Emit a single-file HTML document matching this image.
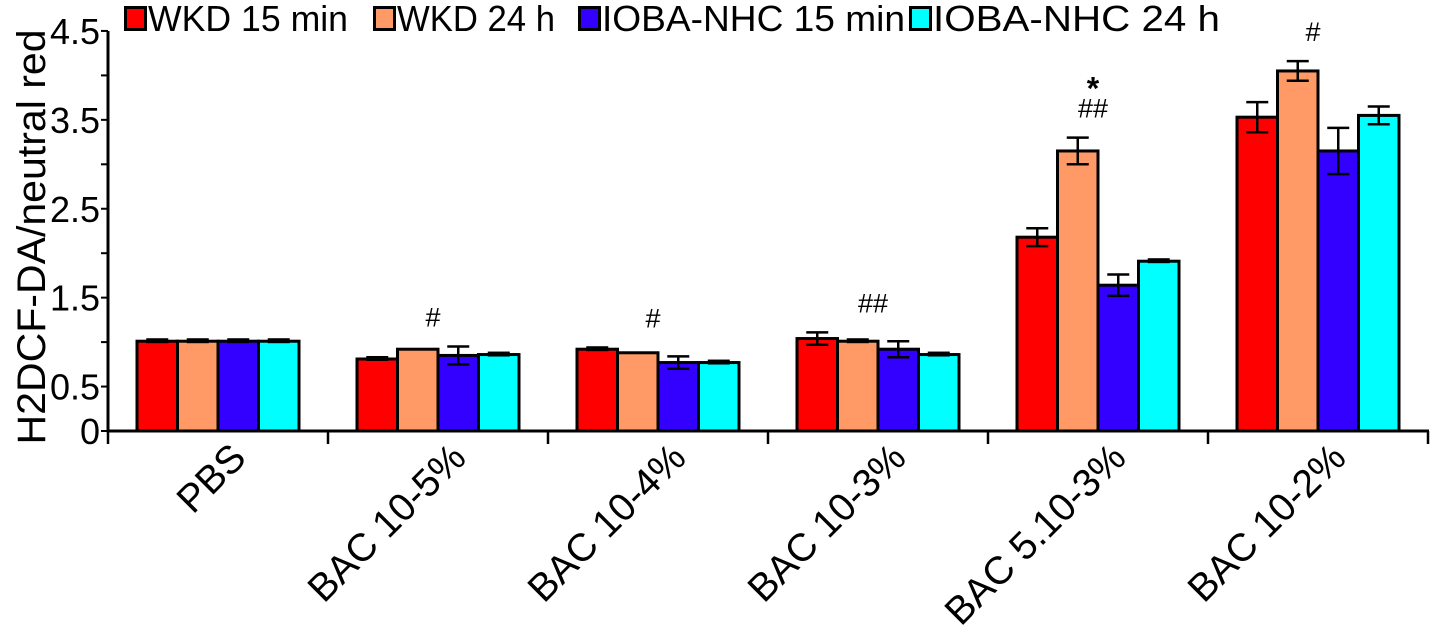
<!DOCTYPE html>
<html><head><meta charset="utf-8"><style>
html,body{margin:0;padding:0;background:#fff;}
svg{display:block;font-family:"Liberation Sans",Arial,sans-serif;}
</style></head><body>
<svg id="chart" width="1434" height="636" viewBox="0 0 1434 636" xmlns="http://www.w3.org/2000/svg">
<g id="legend"></g>
<text transform="translate(45,237) rotate(-90)" text-anchor="middle" font-size="40" textLength="415" lengthAdjust="spacingAndGlyphs" fill="#000">H2DCF-DA/neutral red</text>
<g id="axes"></g>
<g id="bars"></g>
<g id="notes"></g>
</svg>
<script>
const categories = ["PBS","BAC 10-5%","BAC 10-4%","BAC 10-3%","BAC 5.10-3%","BAC 10-2%"];
const seriesNames = ["WKD 15 min","WKD 24 h","IOBA-NHC 15 min","IOBA-NHC 24 h"];
const seriesColors = ["#ff0000","#ff9966","#3300ff","#00ffff"];
const wkd15 = [1.01,0.81,0.92,1.04,2.18,3.53];
const wkd24 = [1.01,0.92,0.88,1.01,3.15,4.05];
const ioba15 = [1.01,0.85,0.77,0.92,1.64,3.15];
const ioba24 = [1.01,0.86,0.77,0.86,1.91,3.55];
const wkd15Err = [0.02,0.02,0.02,0.07,0.1,0.17];
const wkd24Err = [0.02,0,0,0.02,0.15,0.11];
const ioba15Err = [0.02,0.1,0.07,0.09,0.12,0.26];
const ioba24Err = [0.02,0.02,0.02,0.02,0.02,0.1];
const majorTicks = [0,0.5,1.5,2.5,3.5,4.5];
const majorLabels = ["0","0.5","1.5","2.5","3.5","4.5"];
const minorTicks = [1,2,3,4];
const annotations = [["",""],["","#"],["","#"],["","##"],["*","##"],["","#"]];

const NS="http://www.w3.org/2000/svg";
const X0=108, GW=220, Y0=431, PPU=88.9, BW=40.5, OFF=29;
const yS=v=>Y0-v*PPU;
const groupX=i=>X0+i*GW;
function mk(tag,attrs,parent){const e=document.createElementNS(NS,tag);for(const k in attrs)e.setAttribute(k,attrs[k]);parent.appendChild(e);return e;}
const axes=document.getElementById('axes'),bars=document.getElementById('bars'),notes=document.getElementById('notes'),legend=document.getElementById('legend');

const legX=[124,373,578,909], legW=[225,183,328,312];
seriesNames.forEach((n,i)=>{
  const r=mk('rect',{x:legX[i]+1.5,y:7.5,width:20,height:22,fill:seriesColors[i],stroke:'#000','stroke-width':3},legend);
  
  
  const t=mk('text',{x:legX[i]+24,y:31,'font-size':36,textLength:legW[i]-25,lengthAdjust:'spacingAndGlyphs'},legend);
  t.textContent=n;
  
  
});

const ya=mk('line',{x1:X0,y1:yS(4.5),x2:X0,y2:Y0+1.5,stroke:'#000','stroke-width':3},axes);


const xa=mk('line',{x1:X0-1.5,y1:Y0,x2:groupX(categories.length)+1,y2:Y0,stroke:'#000','stroke-width':3},axes);


majorTicks.forEach((v,i)=>{
  mk('line',{x1:X0-7,y1:yS(v),x2:X0,y2:yS(v),stroke:'#000','stroke-width':2},axes);
  const t=mk('text',{x:100,y:yS(v)+13,'font-size':36,'text-anchor':'end'},axes);
  t.textContent=majorLabels[i];
  
  
});
minorTicks.forEach(v=>{mk('line',{x1:X0-7,y1:yS(v),x2:X0,y2:yS(v),stroke:'#000','stroke-width':2},axes);});
for(let i=0;i<=categories.length;i++){mk('line',{x1:groupX(i),y1:Y0,x2:groupX(i),y2:Y0+13,stroke:'#000','stroke-width':2.5},axes);}
categories.forEach((c,i)=>{
  const cx=groupX(i)+GW/2+30, cy=460;
  const t=mk('text',{x:0,y:0,'font-size':39,'text-anchor':'end',transform:`translate(${cx},${cy}) rotate(-45)`},axes);
  t.textContent=c;
  
  
});

const vals=[wkd15,wkd24,ioba15,ioba24], errs=[wkd15Err,wkd24Err,ioba15Err,ioba24Err];
categories.forEach((c,i)=>{
  vals.forEach((s,j)=>{
    const x=groupX(i)+OFF+j*BW, y=yS(s[i]);
    const r=mk('rect',{x:x,y:y,width:BW,height:Y0-y,fill:seriesColors[j],stroke:'#000','stroke-width':3},bars);
    
    
    const e=errs[j][i], cx=x+BW/2;
    if(e>0.03){
      const g=mk('g',{stroke:'#000','stroke-width':2.5},bars);
      
      
      mk('line',{x1:cx,y1:yS(s[i]+e),x2:cx,y2:yS(s[i]-e)},g);
      mk('line',{x1:cx-11,y1:yS(s[i]+e),x2:cx+11,y2:yS(s[i]+e)},g);
      mk('line',{x1:cx-11,y1:yS(s[i]-e),x2:cx+11,y2:yS(s[i]-e)},g);
    } else if(e>0){
      const g=mk('rect',{x:cx-11,y:y-3,width:22,height:5,fill:'#000'},bars);
      
      
    }
  });
  const a=annotations[i], mx=groupX(i)+OFF+2*BW-5;
  const topMin=Math.min(...vals.map((s,j)=>yS(s[i]+errs[j][i])));
  if(a[1]){
    const t=mk('text',{x:mx,y:topMin-20,'font-size':27,'text-anchor':'middle'},notes);
    t.textContent=a[1];
    
    
  }
  if(a[0]){
    const t=mk('text',{x:mx,y:topMin-38,'font-size':32,'font-weight':'bold','text-anchor':'middle'},notes);
    t.textContent=a[0];
    
    
  }
});
</script>
</body></html>
